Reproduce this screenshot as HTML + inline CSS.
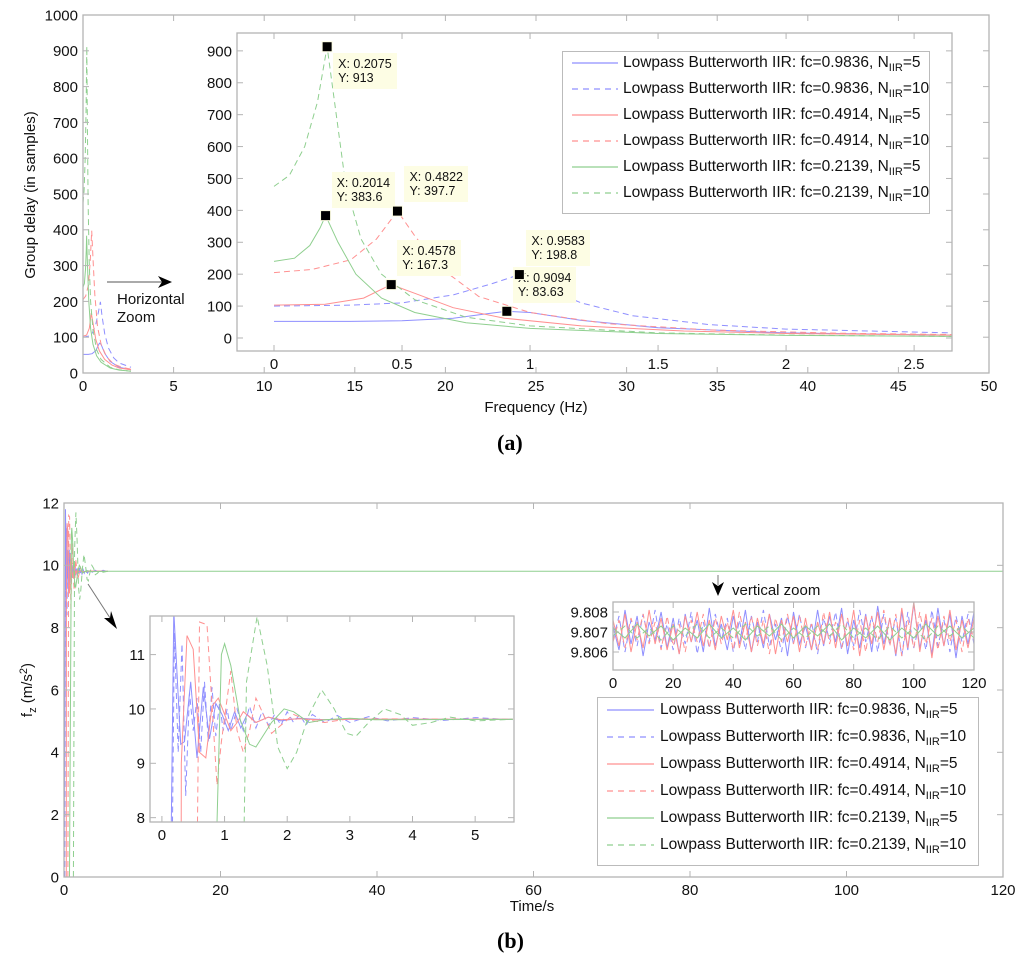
<!DOCTYPE html>
<html><head><meta charset="utf-8">
<style>
html,body{margin:0;background:#fff;width:1024px;height:970px;overflow:hidden}
body{position:relative;font-family:"Liberation Sans",sans-serif}
svg{position:absolute;left:0;top:0}
.lg{position:absolute;border:1px solid #bbb;background:#fff;overflow:hidden}
.lr{position:absolute;left:0;height:20px;white-space:nowrap;font-size:15.5px;color:#111}
.lr svg{position:relative;display:inline-block;vertical-align:middle}
sub{font-size:11px;vertical-align:-4px}
.tip{position:absolute;background:#fdfde4;font-size:12.5px;line-height:14px;padding:4px 5px;color:#111;white-space:nowrap}
.cap{position:absolute;font-family:"Liberation Serif",serif;font-size:22px;font-weight:bold;line-height:26px}
</style></head>
<body>
<svg id="s" width="1024" height="970"></svg>
<div class="cap" style="left:497px;top:430px">(<b>a</b>)</div>
<div class="cap" style="left:497px;top:928px">(<b>b</b>)</div>
<div id="lgA" class="lg" style="left:562px;top:51px;width:366px;height:161px"></div>
<div id="lgB" class="lg" style="left:597px;top:697px;width:380px;height:167px"></div>
<div id="tips"></div>
<script>
// ---- chart (a) data: group delay vs frequency ----
const bsF=[0,0.3,0.5,0.7,0.85,0.9094,1.0,1.2,1.5,2.0,2.65];
const bsV=[52,52,54,62,78,83.6,80,55,32,16,9];
const bdF=[0,0.3,0.5,0.7,0.85,0.9583,1.05,1.2,1.4,1.7,2.0,2.65];
const bdV=[100,103,110,135,170,198.8,160,110,70,42,28,16];
const rsF=[0,0.2,0.35,0.4578,0.55,0.7,0.9,1.2,1.6,2.0,2.65];
const rsV=[103,106,125,167.3,140,95,62,38,22,14,9];
const rdF=[0,0.15,0.3,0.4,0.4822,0.55,0.65,0.8,1.0,1.3,1.7,2.2,2.65];
const rdV=[205,215,245,310,397.7,320,220,130,80,45,25,15,11];
const gsF=[0,0.08,0.14,0.18,0.2014,0.25,0.32,0.42,0.55,0.75,1.0,1.5,2.0,2.65];
const gsV=[240,250,290,345,383.6,300,200,125,80,48,30,14,8,5];
const gdF=[0,0.06,0.12,0.17,0.2075,0.24,0.28,0.34,0.42,0.55,0.75,1.0,1.5,2.0,2.65];
const gdV=[475,510,600,740,913,720,480,310,200,120,65,38,16,9,5];
const tipX=[0.2075,0.2014,0.4822,0.4578,0.9583,0.9094];
const tipY=[913,383.6,397.7,167.3,198.8,83.63];
const tipLabX=["0.2075","0.2014","0.4822","0.4578","0.9583","0.9094"];
const tipLabY=["913","383.6","397.7","167.3","198.8","83.63"];
const aMainXTicks=[0,5,10,15,20,25,30,35,40,45,50];
const aMainYTicks=[0,100,200,300,400,500,600,700,800,900,1000];
const aInXTicks=[0,0.5,1,1.5,2,2.5];
const aInYTicks=[0,100,200,300,400,500,600,700,800,900];
// ---- chart (b) data: f_z vs time ----
const bsT=[0,0.15,0.19,0.3,0.36,0.46,0.56,0.66,0.76,0.86,0.96,1.06,1.16,1.26,1.36,1.5,1.7,1.9,2.2,2.6,3,5.6];
const bsA=[0,7.9,11.8,9.35,9.4,10.5,9.1,10.4,9.45,10.1,9.9,9.6,9.95,9.65,9.9,9.75,9.85,9.78,9.83,9.8,9.81,9.81];
const bdT=[0.1,0.2,0.26,0.32,0.38,0.44,0.5,0.56,0.62,0.68,0.74,0.8,0.86,0.92,0.98,1.04,1.1,1.2,1.3,1.4,1.5,1.6,1.7,1.8,1.9,2.0,2.1,2.2,2.3,2.4,2.6,2.8,3.0,3.3,3.6,4,4.5,5,5.6];
const bdA=[0,11.4,9.2,11.2,8.4,10.3,9.6,10.2,9.2,10.5,9.4,10.4,9.5,10.1,9.6,10.0,9.6,10.0,9.6,10.05,9.65,9.95,9.7,9.9,9.7,9.95,9.75,9.9,9.7,9.9,9.75,9.88,9.75,9.86,9.78,9.84,9.79,9.84,9.8];
const rsT=[0.3,0.31,0.4,0.5,0.6,0.7,0.8,0.9,1.0,1.1,1.2,1.3,1.4,1.5,1.7,1.9,2.2,2.5,3,5.6];
const rsA=[0,9.0,11.35,11.1,9.2,9.1,10.05,10.2,9.9,9.6,9.75,9.95,9.85,9.75,9.85,9.8,9.82,9.8,9.81,9.81];
const rdT=[0.5,0.6,0.72,0.88,0.95,1.1,1.2,1.3,1.4,1.5,1.62,1.75,1.9,2.1,2.3,2.6,3,5.6];
const rdA=[0,11.6,11.55,8.6,9.4,10.7,9.6,9.2,9.6,10.2,9.9,9.55,9.7,9.9,9.8,9.75,9.82,9.81];
const gsT=[0.7,0.95,1.0,1.1,1.25,1.4,1.5,1.75,1.95,2.1,2.35,2.6,3,3.4,5.6];
const gsA=[0,11.0,11.2,10.8,9.8,9.35,9.3,9.75,10.0,9.95,9.75,9.8,9.83,9.8,9.81];
const gdT=[1.2,1.35,1.52,1.68,1.85,2.0,2.15,2.35,2.55,2.75,2.95,3.1,3.3,3.55,3.8,4.0,4.3,4.6,5,5.6];
const gdA=[0,10.5,11.7,10.8,9.3,8.9,9.2,9.9,10.35,10.0,9.55,9.5,9.75,10.0,9.9,9.7,9.75,9.85,9.78,9.81];
const steady=9.807;
// steady-state deviations (units of 1e-4 m/s^2), evenly over 0..120 s
const nBS=[3,-9,11,-6,8,-12,5,-4,10,-8,7,-11,9,-5,6,-10,12,-7,4,-9,8,-6,11,-10,5,-8,9,-4,7,-12,10,-6,3,-9,11,-7,8,-5,12,-11,6,-8,9,-10,13,-6,7,-12,10,-9,14,-8,6,-11,12,-7,9,-13,8,-6,10];
const nBD=[-4,8,-10,6,-7,9,-5,11,-8,4,-9,7,-6,10,-11,5,-8,9,-4,7,-10,6,-9,8,-5,11,-7,4,-10,8,-6,9,-8,5,-11,7,-4,10,-9,6,-7,11,-5,8,-10,9,-6,7,-12,10,-8,5,-9,11,-7,6,-10,8,-5,9,-6];
const nRS=[6,-7,9,-10,5,-8,11,-6,7,-9,4,-11,8,-5,10,-7,6,-9,8,-4,11,-8,5,-10,7,-6,9,-11,6,-5,8,-10,7,-9,5,-6,10,-8,9,-7,11,-12,8,-6,10,-9,7,-11,12,-8,15,-10,9,-13,8,-7,11,-9,6,-8,7];
const nRD=[-5,6,-8,7,-4,9,-6,5,-9,8,-7,4,-10,6,-5,9,-8,7,-6,5,-9,10,-4,8,-7,6,-11,7,-5,9,-6,8,-7,4,-9,10,-6,5,-8,7,-9,6,-10,8,-5,11,-7,9,-12,6,-8,10,-6,7,-9,8,-5,6,-10,7,-4];
const nGS=[2,-3,4,-2,3,-4,2,-3,4,-3,2,-4,3,-2,4,-3,3,-2,4,-4,2,-3,3,-4,2,-3,4,-2,3,-3,2];
const nGD=[-2,3,-3,2,-4,3,-2,4,-3,2,-3,4,-2,3,-4,2,-3,3,-2,4,-3,2,-4,3,-3,2,-4,3,-2,3,-3];
const bMainXTicks=[0,20,40,60,80,100,120];
const bMainYTicks=[0,2,4,6,8,10,12];
const bInXTicks=[0,1,2,3,4,5];
const bInYTicks=[8,9,10,11];
const vzXTicks=[0,20,40,60,80,100,120];
const vzYTicks=[9.806,9.807,9.808];
const vzYLabels=["9.806","9.807","9.808"];
const legendText=["fc=0.9836, N","fc=0.9836, N","fc=0.4914, N","fc=0.4914, N","fc=0.2139, N","fc=0.2139, N"];
const legendOrd=["5","10","5","10","5","10"];

const BLUE="#8f8fff",RED="#ff9090",GREEN="#8fcf8f";
const NS="http://www.w3.org/2000/svg";
const S=document.getElementById('s');
let clipN=0;
function el(tag,attrs,parent){const e=document.createElementNS(NS,tag);for(const k in attrs)e.setAttribute(k,attrs[k]);(parent||S).appendChild(e);return e;}
function axes(name,px,dom,xt,yt,fs,xlab,ylab,bg){
  const g=el('g',{});
  
  
  const sx=v=>px.x0+(v-dom.x0)/(dom.x1-dom.x0)*(px.x1-px.x0);
  const sy=v=>px.y1-(v-dom.y0)/(dom.y1-dom.y0)*(px.y1-px.y0);
  if(bg){el('rect',{x:px.x0,y:px.y0,width:px.x1-px.x0,height:px.y1-px.y0,fill:'#fff'},g);}
  const cid='c'+(clipN++);
  const cp=el('clipPath',{id:cid},g);el('rect',{x:px.x0,y:px.y0,width:px.x1-px.x0,height:px.y1-px.y0},cp);
  const plot=el('g',{'clip-path':'url(#'+cid+')'},g);
  const axG=el('g',{},g);
  el('rect',{x:px.x0,y:px.y0,width:px.x1-px.x0,height:px.y1-px.y0,fill:'none',stroke:'#b4b4b4','stroke-width':1.3},axG);
  xt.forEach((v,i)=>{const x=sx(v);
    el('line',{x1:x,x2:x,y1:px.y1,y2:px.y1-6,stroke:'#b4b4b4'},axG);
    el('line',{x1:x,x2:x,y1:px.y0,y2:px.y0+6,stroke:'#b4b4b4'},axG);
    const t=el('text',{x:x,y:px.y1+fs+3,'font-size':fs,'text-anchor':'middle',fill:'#111'},axG);t.textContent=xlab?xlab[i]:v;
    });
  yt.forEach((v,i)=>{const y=sy(v);
    el('line',{x1:px.x0,x2:px.x0+6,y1:y,y2:y,stroke:'#b4b4b4'},axG);
    el('line',{x1:px.x1,x2:px.x1-6,y1:y,y2:y,stroke:'#b4b4b4'},axG);
    const t=el('text',{x:px.x0-5,y:y+fs*0.36,'font-size':fs,'text-anchor':'end',fill:'#111'},axG);t.textContent=ylab?ylab[i]:v;
    });
  return {sx,sy,plot,g};
}
function line(ax,xs,ys,color,dash,name){
  const p=xs.map((x,i)=>ax.sx(x).toFixed(1)+','+ax.sy(ys[i]).toFixed(1)).join(' ');
  const e=el('polyline',{points:p,fill:'none',stroke:color,'stroke-width':1,'stroke-dasharray':dash?'6,4':'none'},ax.plot);
  
  
  return e;
}
const A=[[bsF,bsV,BLUE,0],[bdF,bdV,BLUE,1],[rsF,rsV,RED,0],[rdF,rdV,RED,1],[gsF,gsV,GREEN,0],[gdF,gdV,GREEN,1]];
const names=['fc0.9836-n5','fc0.9836-n10','fc0.4914-n5','fc0.4914-n10','fc0.2139-n5','fc0.2139-n10'];
const FS=15;
// ---------- (a) main ----------
const am=axes('group-delay-main-axes',{x0:83,x1:989,y0:15,y1:373},{x0:0,x1:50,y0:0,y1:1000},aMainXTicks,aMainYTicks,FS);
A.forEach((s,i)=>line(am,s[0],s[1],s[2],s[3],'main-curve-'+names[i]));
let t=el('text',{x:536,y:412,'font-size':15,'text-anchor':'middle',fill:'#111'});t.textContent='Frequency (Hz)';

t=el('text',{x:35,y:195,'font-size':15,'text-anchor':'middle',fill:'#111',transform:'rotate(-90 35 195)'});t.textContent='Group delay (in samples)';

el('line',{x1:107,y1:282,x2:165,y2:282,stroke:'#555','stroke-width':1});
el('path',{d:'M172,282 L158,276 L162,282 L158,288 Z',fill:'#000'});
t=el('text',{x:117,y:304,'font-size':15,fill:'#111'});t.textContent='Horizontal';

t=el('text',{x:117,y:322,'font-size':15,fill:'#111'});t.textContent='Zoom';
// ---------- (a) inset ----------
const ai=axes('group-delay-zoom-inset',{x0:237,x1:952,y0:33,y1:351},{x0:-0.1445,x1:2.648,y0:-40.8,y1:956},aInXTicks,aInYTicks,FS,null,null,true);
A.forEach((s,i)=>line(ai,s[0],s[1],s[2],s[3],'inset-curve-'+names[i]));
const tipOff=[[6,6],[6,-44],[7,-45],[6,-45],[7,-45],[6,-44]];
const tipsDiv=document.getElementById('tips');
tipX.forEach((x,i)=>{const px=ai.sx(x),py=ai.sy(tipY[i]);
  const d=document.createElement('div');d.className='tip';
  d.style.left=(px+tipOff[i][0])+'px';d.style.top=(py+tipOff[i][1])+'px';
  d.innerHTML='X: '+tipLabX[i]+'<br>Y: '+tipLabY[i];
  
  
  tipsDiv.appendChild(d);});
const mk=el('svg',{width:1024,height:970,style:'position:absolute;left:0;top:0'});
document.body.appendChild(mk);
tipX.forEach((x,i)=>{const px=ai.sx(x),py=ai.sy(tipY[i]);
  const r=el('rect',{x:px-5,y:py-5,width:10,height:10,fill:'#000',stroke:'#fdfde4','stroke-width':1},mk);
  
  });

// ---------- (b) main ----------
const bm=axes('fz-main-axes',{x0:64,x1:1003,y0:503,y1:877},{x0:0,x1:120,y0:0,y1:12},bMainXTicks,bMainYTicks,FS);
const B=[[bsT,bsA,BLUE,0],[bdT,bdA,BLUE,1],[rsT,rsA,RED,0],[rdT,rdA,RED,1],[gsT,gsA,GREEN,0],[gdT,gdA,GREEN,1]];
B.forEach((s,i)=>line(bm,s[0],s[1],s[2],s[3],'main-response-'+names[i]));
line(bm,[5.6,120],[steady,steady],GREEN,0,'steady-state-line');
t=el('text',{x:532,y:911,'font-size':15,'text-anchor':'middle',fill:'#111'});t.textContent='Time/s';

t=el('text',{x:0,y:0,'font-size':15,'text-anchor':'middle',fill:'#111',transform:'translate(32 690) rotate(-90)'});

t.innerHTML='f<tspan font-size="11" dy="4">z</tspan><tspan dy="-4"> (m/s</tspan><tspan font-size="11" dy="-5">2</tspan><tspan dy="5">)</tspan>';
el('line',{x1:88,y1:584,x2:112,y2:621,stroke:'#777','stroke-width':1});
el('path',{d:'M117,629 L104,618 L110,618 L111,611 Z',fill:'#000'});
// ---------- (b) inset ----------
const bi=axes('fz-zoom-inset',{x0:150,x1:514,y0:616,y1:822},{x0:-0.19,x1:5.62,y0:7.92,y1:11.71},bInXTicks,bInYTicks,FS,null,null,true);
B.forEach((s,i)=>line(bi,s[0],s[1],s[2],s[3],'inset-response-'+names[i]));
// ---------- vertical zoom ----------
const vz=axes('vertical-zoom-inset',{x0:613,x1:974,y0:602,y1:670},{x0:0,x1:120,y0:9.8051,y1:9.8085},vzXTicks,vzYTicks,FS,null,vzYLabels,true);
const N=[[nBS,BLUE,0],[nBD,BLUE,1],[nRS,RED,0],[nRD,RED,1],[nGS,GREEN,0],[nGD,GREEN,1]];
N.forEach((s,i)=>{const xs=s[0].map((_,k)=>k*120/(s[0].length-1));const ys=s[0].map(v=>steady+v*1e-4);line(vz,xs,ys,s[1],s[2],'noise-'+names[i]);});
el('line',{x1:718,y1:575,x2:718,y2:585,stroke:'#777'});
el('path',{d:'M718,596 L712,582 L718,586 L724,582 Z',fill:'#000'});
t=el('text',{x:732,y:595,'font-size':15,fill:'#111'});t.textContent='vertical zoom';


// ---------- legends ----------
function legend(id,rowTops,sampleLeft,sampleW,textLeft){
  const L=document.getElementById(id);
  const cols=[BLUE,BLUE,RED,RED,GREEN,GREEN];
  legendText.forEach((txt,i)=>{
    const r=document.createElement('div');r.className='lr';r.style.top=rowTops[i]+'px';r.style.left=sampleLeft+'px';
    
    
    r.innerHTML='<svg width="'+sampleW+'" height="4" style="margin-right:'+(textLeft-sampleW)+'px"><line x1="0" y1="2" x2="'+sampleW+'" y2="2" stroke="'+cols[i]+'" stroke-width="1.2" '+(i%2?'stroke-dasharray="6,5"':'')+'/></svg>Lowpass Butterworth IIR: '+txt+'<sub>IIR</sub>='+legendOrd[i];
    L.appendChild(r);});
}
legend('lgA',[2,28,54,80,106,132],9,46,51);
legend('lgB',[3,30,57,84,111,138],9,47,53);
</script>
</body></html>
